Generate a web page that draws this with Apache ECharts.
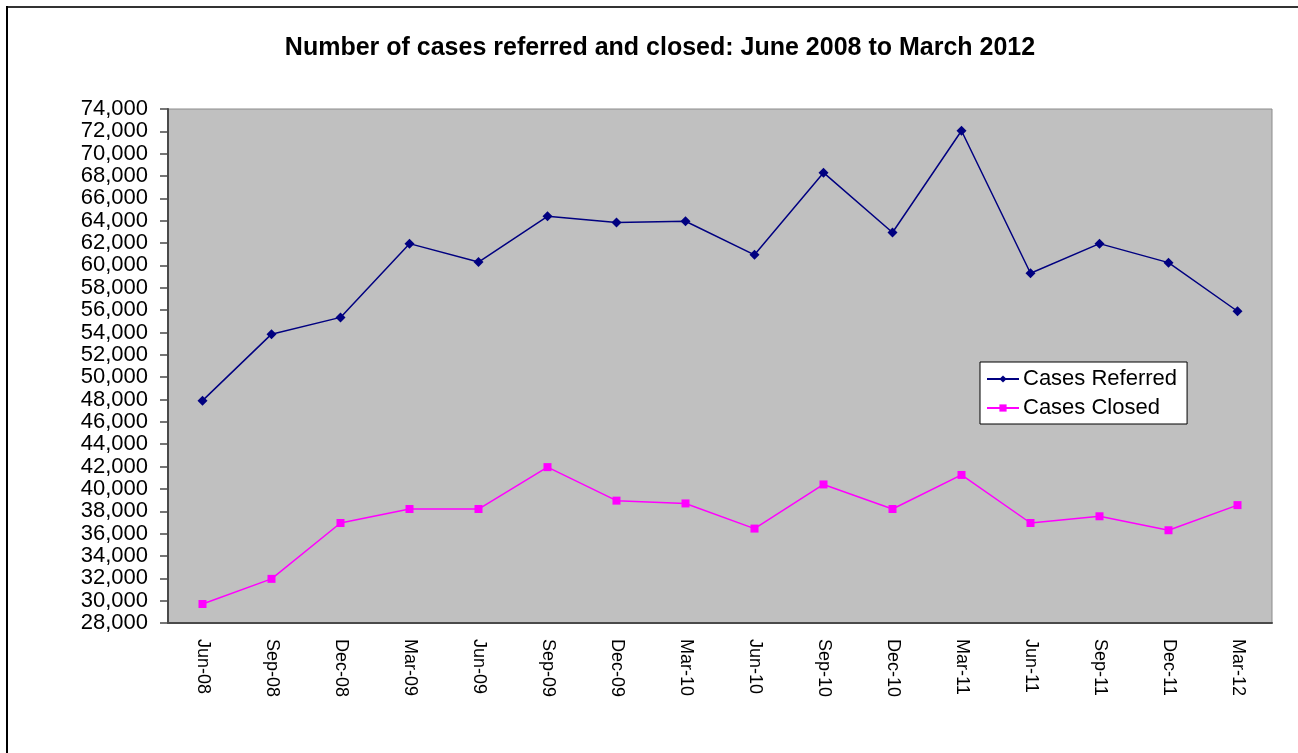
<!DOCTYPE html>
<html>
<head>
<meta charset="utf-8">
<title>Number of cases referred and closed</title>
<script src="https://cdn.jsdelivr.net/npm/echarts@6/dist/echarts.min.js"></script>
<style>
    html, body { margin: 0; padding: 0; background: #fff; }
    #main { width: 1298px; height: 753px; }
</style>
</head>
<body>
<div id="main"></div>
<script type="text/javascript">
    // quarters, June 2008 to March 2012
    var categories = ['Jun-08', 'Sep-08', 'Dec-08', 'Mar-09', 'Jun-09', 'Sep-09', 'Dec-09', 'Mar-10',
        'Jun-10', 'Sep-10', 'Dec-10', 'Mar-11', 'Jun-11', 'Sep-11', 'Dec-11', 'Mar-12'];
    var casesReferred = [47900, 53850, 55350, 61950, 60300, 64400, 63850, 63950,
        60950, 68300, 62950, 72050, 59300, 61950, 60250, 55900];
    var casesClosed = [29700, 31950, 36950, 38200, 38200, 41950, 38950, 38700,
        36450, 40400, 38200, 41250, 36950, 37550, 36300, 38550];

    var yMin = 28000, yMax = 74000, yStep = 2000;

    function fmt(v) {
        return String(v).replace(/\B(?=(\d{3})+(?!\d))/g, ',');
    }

    var myChart = echarts.init(document.getElementById('main'));
    var option = {
        animation: false,
        backgroundColor: '#ffffff',
        textStyle: { fontFamily: 'Liberation Sans, Arial, sans-serif', color: '#000' },
        title: {
            text: 'Number of cases referred and closed: June 2008 to March 2012',
            left: 655,
            textAlign: 'center',
            top: 31,
            textStyle: { fontSize: 25, fontWeight: 'bold', color: '#000' }
        },
        graphic: [
            { type: 'line', shape: { x1: 7, y1: 7, x2: 1298, y2: 7 }, style: { stroke: '#333', lineWidth: 2 } },
            { type: 'line', shape: { x1: 7, y1: 6, x2: 7, y2: 753 }, style: { stroke: '#000', lineWidth: 2 } }
        ],
        grid: {
            left: 168,
            right: 26,
            top: 109,
            bottom: 130,
            show: true,
            backgroundColor: '#c0c0c0',
            borderColor: '#8c8c8c',
            borderWidth: 1
        },
        legend: {
            orient: 'vertical',
            left: 980,
            top: 362,
            padding: [6, 10, 5, 6],
            itemGap: 7,
            itemWidth: 32,
            itemHeight: 9,
            backgroundColor: '#fff',
            borderColor: '#000',
            borderWidth: 1,
            borderRadius: 0,
            textStyle: { fontSize: 22, color: '#000', padding: [0, 0, 0, -1] },
            data: ['Cases Referred', 'Cases Closed']
        },
        xAxis: {
            type: 'category',
            boundaryGap: true,
            data: categories,
            axisLine: { lineStyle: { color: '#4a4a4a', width: 2 } },
            axisTick: { length: 8, lineStyle: { color: '#4a4a4a', width: 1.5 } },
            axisLabel: { rotate: -90, margin: 16, fontSize: 18, color: '#000' },
            splitLine: { show: false }
        },
        yAxis: {
            type: 'value',
            min: yMin,
            max: yMax,
            interval: yStep,
            axisLine: { show: true, lineStyle: { color: '#4a4a4a', width: 2 } },
            axisTick: { show: true, length: 8, lineStyle: { color: '#4a4a4a', width: 1.5 } },
            axisLabel: { margin: 20, fontSize: 22, color: '#000', formatter: fmt },
            splitLine: { show: false }
        },
        series: [
            {
                name: 'Cases Referred',
                type: 'line',
                data: casesReferred,
                symbol: 'diamond',
                symbolSize: 10,
                lineStyle: { color: '#000080', width: 1.5 },
                itemStyle: { color: '#000080' }
            },
            {
                name: 'Cases Closed',
                type: 'line',
                data: casesClosed,
                symbol: 'rect',
                symbolSize: 8,
                lineStyle: { color: '#ff00ff', width: 1.5 },
                itemStyle: { color: '#ff00ff' }
            }
        ]
    };

    myChart.setOption(option);
</script>
</body>
</html>
